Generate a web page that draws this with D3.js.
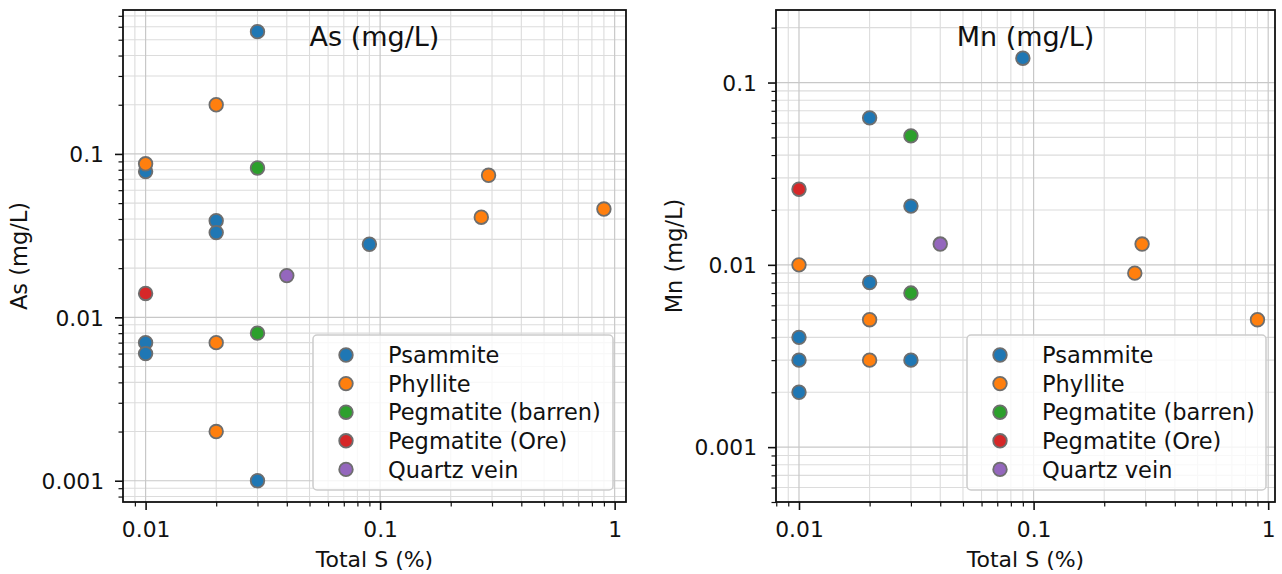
<!doctype html>
<head>
  <title>Total S vs As / Mn</title>
</head>

<style>
  body { margin: 0; background: white; }
  svg text { font-family: "DejaVu Sans", sans-serif; fill: #111; }
  .tick line { stroke: #111; }
</style>
<body>
  <script src="https://cdn.jsdelivr.net/npm/d3@7"></script>

  <svg id="chart" width="1282" height="574"></svg>

  <script>

  // sample types, plotted in this order (later ones on top)
  const sampleTypes = ["Psammite", "Phyllite", "Pegmatite (barren)", "Pegmatite (Ore)", "Quartz vein"];

  // As panel: Total S (%) and As (mg/L), one list per sample type
  const asTotalS = [
    [0.03, 0.01, 0.02, 0.02, 0.09, 0.01, 0.01, 0.03],
    [0.01, 0.02, 0.29, 0.27, 0.9, 0.02, 0.02],
    [0.03, 0.03],
    [0.01],
    [0.04]
  ];
  const asValues = [
    [0.56, 0.078, 0.039, 0.033, 0.028, 0.007, 0.006, 0.001],
    [0.087, 0.2, 0.074, 0.041, 0.046, 0.007, 0.002],
    [0.082, 0.008],
    [0.014],
    [0.018]
  ];

  // Mn panel: Total S (%) and Mn (mg/L)
  const mnTotalS = [
    [0.09, 0.02, 0.03, 0.02, 0.01, 0.01, 0.03, 0.01],
    [0.01, 0.29, 0.27, 0.9, 0.02, 0.02],
    [0.03, 0.03],
    [0.01],
    [0.04]
  ];
  const mnValues = [
    [0.136, 0.064, 0.021, 0.008, 0.004, 0.003, 0.003, 0.002],
    [0.01, 0.013, 0.009, 0.005, 0.005, 0.003],
    [0.051, 0.007],
    [0.026],
    [0.013]
  ];

  const xTickValues = [0.01, 0.1, 1];
  const yTickValues = [0.001, 0.01, 0.1];

  let svg = d3.select("#chart");
  let color = d3.scaleOrdinal(d3.schemeCategory10).domain(sampleTypes);

  function drawPanel(p) {
    let x = d3.scaleLog().domain(p.xDomain).range([p.left, p.right]);
    let y = d3.scaleLog().domain(p.yDomain).range([p.bottom, p.top]);

    let xMinor = x.ticks().filter(d => !xTickValues.includes(d));
    let yMinor = y.ticks().filter(d => !yTickValues.includes(d));

    let g = svg.append("g");

    // grid, minor first then major
    let grid = g.append("g");
    grid.selectAll(".vminor").data(xMinor).enter().append("line")
      .attr("x1", d => x(d)).attr("x2", d => x(d))
      .attr("y1", p.top).attr("y2", p.bottom)
      .attr("stroke", "#dcdcdc").attr("stroke-width", 1.1);
    grid.selectAll(".hminor").data(yMinor).enter().append("line")
      .attr("y1", d => y(d)).attr("y2", d => y(d))
      .attr("x1", p.left).attr("x2", p.right)
      .attr("stroke", "#dcdcdc").attr("stroke-width", 1.1);
    grid.selectAll(".vmajor").data(xTickValues).enter().append("line")
      .attr("x1", d => x(d)).attr("x2", d => x(d))
      .attr("y1", p.top).attr("y2", p.bottom)
      .attr("stroke", "#c8c8c8").attr("stroke-width", 1.2);
    grid.selectAll(".hmajor").data(yTickValues).enter().append("line")
      .attr("y1", d => y(d)).attr("y2", d => y(d))
      .attr("x1", p.left).attr("x2", p.right)
      .attr("stroke", "#c8c8c8").attr("stroke-width", 1.2);

    // points
    sampleTypes.forEach((t, i) => {
      let pts = p.xs[i].map((v, j) => [v, p.ys[i][j]]);
      g.append("g").selectAll("circle")
        .data(pts)
        .enter()
        .append("circle")
        .attr("cx", d => x(d[0]))
        .attr("cy", d => y(d[1]))
        .attr("r", 6.8)
        .attr("fill", color(t))
        .attr("stroke", "#6e6e6e")
        .attr("stroke-width", 1.8);
    });

    // axes
    let fmt = d => String(d);
    let xAxis = g.append("g").attr("transform", "translate(0," + p.bottom + ")")
      .call(d3.axisBottom(x).tickValues(xTickValues).tickFormat(fmt).tickSize(8).tickPadding(11.5));
    g.append("g").attr("transform", "translate(0," + p.bottom + ")")
      .call(d3.axisBottom(x).tickValues(xMinor).tickFormat("").tickSize(4.5))
      .selectAll("line").attr("stroke-width", 1.2);
    let yAxis = g.append("g").attr("transform", "translate(" + p.left + ",0)")
      .call(d3.axisLeft(y).tickValues(yTickValues).tickFormat(fmt).tickSize(8).tickPadding(11));
    g.append("g").attr("transform", "translate(" + p.left + ",0)")
      .call(d3.axisLeft(y).tickValues(yMinor).tickFormat("").tickSize(4.5))
      .selectAll("line").attr("stroke-width", 1.2);
    yAxis.selectAll("text").attr("dy", "0.36em");

    g.selectAll(".domain").remove();
    g.selectAll(".tick text").style("font-size", "21.8px").style("font-family", "DejaVu Sans");
    xAxis.selectAll("line").attr("stroke-width", 1.6);
    yAxis.selectAll("line").attr("stroke-width", 1.6);

    // spines
    g.append("rect")
      .attr("x", p.left).attr("y", p.top)
      .attr("width", p.right - p.left).attr("height", p.bottom - p.top)
      .attr("fill", "none").attr("stroke", "#111").attr("stroke-width", 1.8);

    let cx = (p.left + p.right) / 2;

    // title inside the plot
    g.append("text")
      .attr("x", cx).attr("y", 46)
      .attr("text-anchor", "middle")
      .style("font-size", "27px")
      .text(p.title);

    g.append("text")
      .attr("x", cx).attr("y", 567)
      .attr("text-anchor", "middle")
      .style("font-size", "22px")
      .text("Total S (%)");

    g.append("text")
      .attr("transform", "translate(" + p.ylabelX + "," + ((p.top + p.bottom) / 2) + ") rotate(-90)")
      .attr("text-anchor", "middle")
      .style("font-size", "22.5px")
      .text(p.title);

    // legend
    let lg = g.append("g").attr("transform", "translate(" + p.legendX + ",335)");
    lg.append("rect")
      .attr("width", p.legendW).attr("height", 155)
      .attr("rx", 4)
      .attr("fill", "white").attr("fill-opacity", 0.8)
      .attr("stroke", "#cccccc").attr("stroke-width", 1.5);
    let rows = lg.selectAll(".row")
      .data(sampleTypes)
      .enter()
      .append("g")
      .attr("transform", (d, i) => "translate(0," + (20 + i * 28.6) + ")");
    rows.append("circle")
      .attr("cx", 33).attr("r", 6.8)
      .attr("fill", d => color(d))
      .attr("stroke", "#6e6e6e").attr("stroke-width", 1.8);
    rows.append("text")
      .attr("x", 75).attr("dy", "0.36em")
      .style("font-size", "22.5px")
      .text(d => d);
  }

  drawPanel({
    title: "As (mg/L)", xs: asTotalS, ys: asValues,
    left: 123, right: 626, top: 10, bottom: 502,
    xDomain: [0.00801, 1.118], yDomain: [0.000741, 0.76],
    ylabelX: 27, legendX: 313, legendW: 300
  });

  drawPanel({
    title: "Mn (mg/L)", xs: mnTotalS, ys: mnValues,
    left: 776, right: 1275, top: 10, bottom: 502,
    xDomain: [0.00798, 1.069], yDomain: [0.0005, 0.25],
    ylabelX: 682, legendX: 967, legendW: 299
  });

  </script>

</body>
